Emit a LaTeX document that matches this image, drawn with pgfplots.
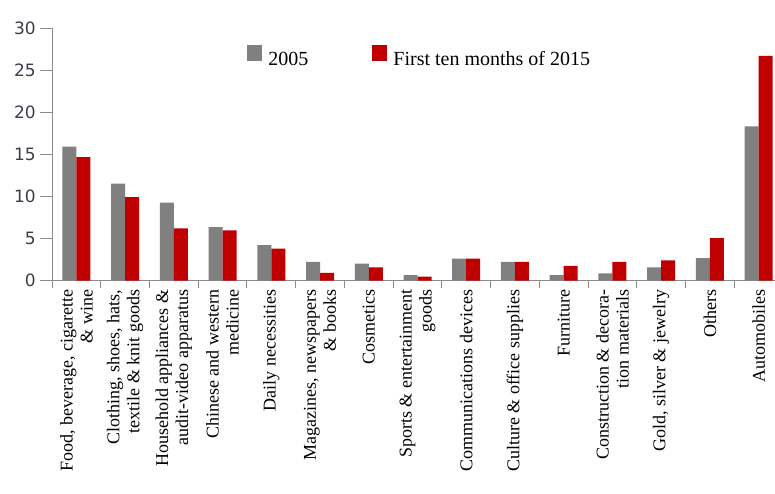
\documentclass[border=0pt]{standalone}
\usepackage{fontspec}
\setmainfont{Liberation Serif}
\newfontfamily\tickfont{DejaVu Sans}
\usepackage{pgfplots}
\pgfplotsset{compat=1.18}
\definecolor{barGray}{HTML}{808080}
\definecolor{barRed}{HTML}{C00000}
\definecolor{axGray}{HTML}{8C8C8C}
\definecolor{tickText}{HTML}{3C3C4A}

\begin{document}
\begin{tikzpicture}
\begin{axis}[
  scale only axis,
  width=731pt, height=252.5pt,
  at={(0,0)}, anchor=south west,
  ybar,
  bar width=14pt,
  xmin=-0.5, xmax=14.5,
  ymin=0, ymax=30,
  ytick={0,5,...,30},
  xtick={0,...,14},
  minor xtick={-0.5,0.5,...,14.5},
  axis x line*=bottom, axis y line*=left,
  axis line style={axGray, line width=0.9pt},
  tick align=outside,
  major tick length=12pt,
  minor tick length=7pt,
  tick style={axGray, line width=0.9pt},
  xtick style={draw=none},
  minor x tick style={draw=axGray},
  /pgf/number format/assume math mode=true,
  yticklabel style={font=\tickfont\fontsize{17}{17}\selectfont, text=tickText, inner sep=2pt, xshift=-2pt},
  xticklabel style={rotate=90, anchor=east, align=right,
    font=\fontsize{18}{20}\selectfont, inner sep=1pt},
  xticklabel shift=-4pt,
  xticklabels={
    {Food, beverage, cigarette\\\& wine},
    {Clothing, shoes, hats,\\textile \& knit goods},
    {Household appliances \&\\audit-video apparatus},
    {Chinese and western\\medicine},
    {Daily necessities},
    {Magazines, newspapers\\\& books},
    {Cosmetics},
    {Sports \& entertainment\\goods},
    {Communications devices},
    {Culture \& office supplies},
    {Furniture},
    {Construction \& decora-\\tion materials},
    {Gold, silver \& jewelry},
    {Others},
    {Automobiles}},
  legend columns=2,
  legend style={at={(0.263,0.885)}, anchor=west, draw=none, fill=none,
    font=\fontsize{20}{22}\selectfont,
    nodes={inner xsep=6pt},
    /tikz/every even column/.append style={column sep=58pt}},
  legend image code/.code={\fill[#1,draw=none] (0pt,-1pt) rectangle (15pt,15pt);},
]
\addplot[fill=barGray, draw=none, bar shift=-7pt] coordinates {
  (0,15.9) (1,11.5) (2,9.25) (3,6.35) (4,4.2) (5,2.2) (6,2.0) (7,0.65)
  (8,2.6) (9,2.2) (10,0.65) (11,0.85) (12,1.55) (13,2.65) (14,18.3)};
\addlegendentry{2005}
\addplot[fill=barRed, draw=none, bar shift=7pt] coordinates {
  (0,14.65) (1,9.9) (2,6.2) (3,5.95) (4,3.8) (5,0.9) (6,1.55) (7,0.45)
  (8,2.6) (9,2.2) (10,1.75) (11,2.2) (12,2.4) (13,5.05) (14,26.7)};
\addlegendentry{First ten months of 2015}
\end{axis}
\pgfresetboundingbox
\path[use as bounding box] (-52pt,-212.5pt) rectangle (723pt,280.5pt);
\end{tikzpicture}
\end{document}
